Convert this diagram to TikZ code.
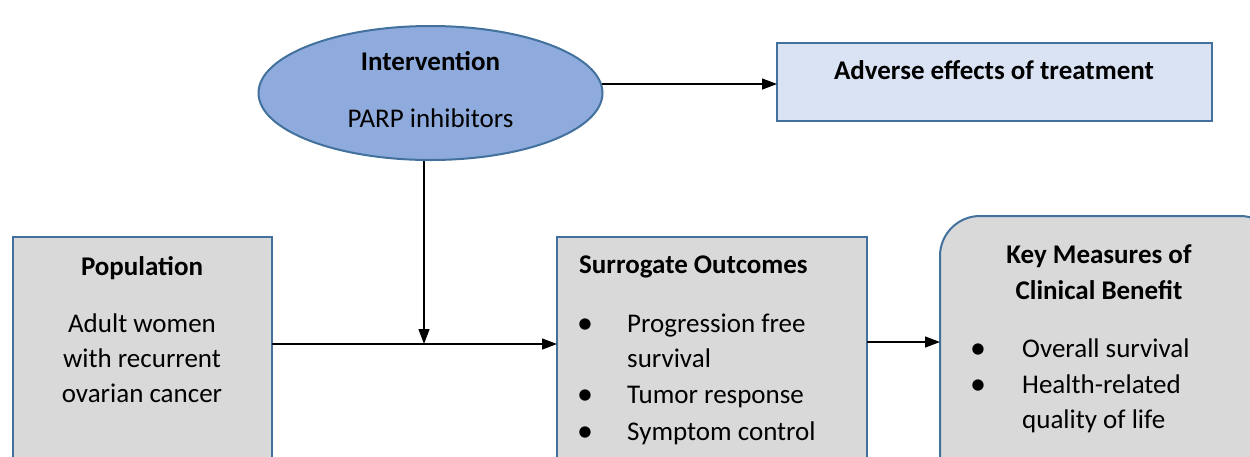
\documentclass[tikz,border=0pt]{standalone}
\usepackage{fontspec}
\setmainfont{Carlito}
\usetikzlibrary{shapes.geometric,arrows.meta}
\definecolor{bordc}{HTML}{41719C}
\definecolor{grayc}{HTML}{D9D9D9}
\definecolor{ellc}{HTML}{8FAADC}
\definecolor{advc}{HTML}{DAE3F3}
\begin{document}
\begin{tikzpicture}[x=1pt,y=-1pt,
  box/.style={draw=bordc,line width=2pt,fill=grayc,anchor=north west,inner sep=0pt,outer sep=0pt},
  txt/.style={anchor=base,inner sep=0pt,font=\fontsize{27}{35}\selectfont},
  btxt/.style={txt,font=\fontsize{27}{35}\selectfont\bfseries},
  ltxt/.style={txt,anchor=base west},
  bul/.style={txt,font=\fontsize{32}{35}\selectfont},
  arr/.style={line width=1.3pt,-{Triangle[length=15pt,width=11pt]}}]
\useasboundingbox (0,0) rectangle (1250,456);
\clip (0,0) rectangle (1250,456);
\fill[white] (0,0) rectangle (1250,456);
% shapes
\node[ellipse,draw=bordc,line width=2pt,fill=ellc,minimum width=344pt,minimum height=134pt,inner sep=0pt] (int) at (430.5,93) {};
\node[box,fill=advc,minimum width=435pt,minimum height=78pt] (adv) at (777,43) {};
\node[box,minimum width=259pt,minimum height=300pt] (pop) at (13,237) {};
\node[box,minimum width=310pt,minimum height=300pt] (sur) at (557,237) {};
\node[box,rounded corners=40pt,minimum width=340pt,minimum height=300pt] (key) at (940,216) {};
% texts
\node[btxt] (t1) at (430.5,70) {Intervention};
\node[txt] (t2) at (430.5,127) {PARP inhibitors};
\node[btxt] (t3) at (994,79) {Adverse effects of treatment};
\node[btxt] (t4) at (142,275) {Population};
\node[txt] (t5) at (142,332) {Adult women};
\node[txt] (t6) at (142,367) {with recurrent};
\node[txt] (t7) at (142,402) {ovarian cancer};
\node[btxt,anchor=base west] (t8) at (579,273) {Surrogate Outcomes};
\node[bul] (b1) at (585,333) {•};
\node[ltxt] (t9) at (627,332) {Progression free};
\node[ltxt] (t10) at (627,367) {survival};
\node[bul] (b2) at (585,404) {•};
\node[ltxt] (t11) at (627,403) {Tumor response};
\node[bul] (b3) at (585,441) {•};
\node[ltxt] (t12) at (627,440) {Symptom control};
\node[btxt] (t13) at (1099,263) {Key Measures of};
\node[btxt] (t14) at (1099,299) {Clinical Benefit};
\node[bul] (b4) at (978,358) {•};
\node[ltxt] (t15) at (1022,357) {Overall survival};
\node[bul] (b5) at (978,394) {•};
\node[ltxt] (t16) at (1022,393) {Health-related};
\node[ltxt] (t17) at (1022,428) {quality of life};
% connectors
\coordinate (j) at (424,344);
\coordinate (k) at (900,342);
\draw[arr] (int.3) -- (int.3 -| adv.west);
\draw[arr] (j |- int.south) -- (j);
\draw[arr] (pop.east |- j) -- (sur.west |- j);
\draw[arr] (k -| sur.east) -- (k -| key.west);
\end{tikzpicture}
\end{document}
